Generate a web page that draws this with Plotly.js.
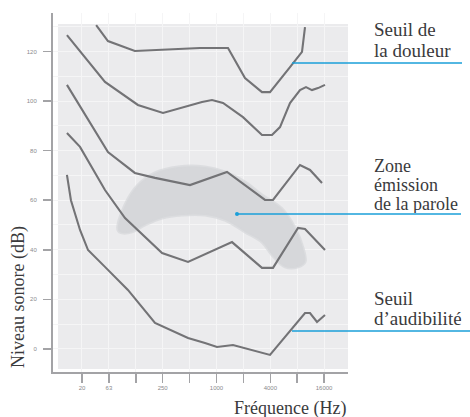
<!DOCTYPE html>
<html>
<head>
<meta charset="utf-8">
<script src="https://cdn.plot.ly/plotly-3.0.1.min.js"></script>
<style>html,body{margin:0;padding:0;background:#fff}#chart{width:470px;height:417px}</style>
</head>
<body>
<div id="chart"></div>
<script>
// Frequencies in Hz, levels in dB
const painFreq = [45, 61, 122, 654, 1345, 2083, 3229, 3969, 6644, 9053, 9781];
const painDb   = [130.6, 124.2, 120.2, 121.4, 121.4, 109.3, 103.6, 103.6, 113.7, 119.8, 129.8];

const c100Freq = [21.2, 56.5, 132, 252, 688, 891, 1183, 1979, 3229, 4178, 5137, 6644, 8597, 10035, 11713, 13672, 16372];
const c100Db   = [126.6, 107.7, 98.4, 95.2, 99.6, 100.4, 99.2, 93.5, 86.3, 86.3, 89.5, 99.2, 104.4, 105.6, 104.4, 105.2, 106.5];

const c80Freq = [21.2, 36.5, 61, 122, 205, 505, 1311, 3490, 4287, 8597, 11128, 15159];
const c80Db   = [106.5, 92.3, 79.4, 71.0, 69.0, 66.1, 71.4, 60.1, 60.1, 74.2, 72.2, 66.9];

const c60Freq = [21.2, 29.7, 56.5, 94.7, 246, 480, 1491, 3229, 4287, 8169, 9781, 16372];
const c60Db   = [87.1, 81.5, 64.1, 52.8, 38.7, 35.1, 43.1, 32.7, 32.7, 48.8, 48.4, 39.9];

const audFreq = [21.2, 23.5, 29.7, 36.5, 56.5, 102, 205, 480, 743, 1013, 1530, 3969, 9781, 11128, 13325, 16372];
const audDb   = [70.2, 60.0, 48.0, 39.9, 33.1, 23.8, 10.5, 4.4, 2.4, 0.8, 1.6, -2.4, 14.5, 14.5, 10.9, 13.7];

// Speech zone outline
const zoneFreq = [79, 94.7, 132, 205, 371, 743, 1245, 2083, 3229, 5407, 7559, 9294, 9781, 8169, 5840, 4178, 3229, 2083, 1245, 743, 411, 246, 158, 113, 87.6, 79];
const zoneDb   = [48.0, 58.1, 66.1, 71.0, 73.4, 73.4, 71.4, 67.3, 62.1, 56.5, 48.8, 40.7, 35.1, 33.1, 33.1, 37.9, 43.1, 47.2, 52.0, 54.0, 54.0, 52.8, 50.0, 47.2, 46.8, 48.0];

const tickFreq = [31.25, 62.5, 125, 250, 500, 1000, 2000, 4000, 8000, 16000];
const tickText = ['20', '63', '', '250', '', '1000', '', '4000', '', '16000'];
const yTicks = [0, 20, 40, 60, 80, 100, 120];

const curveLine = {color: '#737376', width: 2.1};
const traces = [
  {x: zoneFreq, y: zoneDb, mode: 'lines', fill: 'toself', fillcolor: '#d6d7da',
   line: {color: 'rgba(214,215,218,0.7)', width: 3, shape: 'spline', smoothing: 1}, hoverinfo: 'skip'},
  {x: painFreq, y: painDb, mode: 'lines', line: curveLine},
  {x: c100Freq, y: c100Db, mode: 'lines', line: curveLine},
  {x: c80Freq, y: c80Db, mode: 'lines', line: curveLine},
  {x: c60Freq, y: c60Db, mode: 'lines', line: curveLine},
  {x: audFreq, y: audDb, mode: 'lines', line: curveLine}
];

const serif = 'Liberation Serif, DejaVu Serif, serif';
const txtColor = '#3a3a3c';
const blue = '#1a9fd8';
function lbl(text, px, py, size, h) {
  return {text: text, xref: 'paper', yref: 'paper', x: (px - 53) / 295, y: (372 - py) / 359,
    xanchor: 'left', yanchor: 'middle', height: h, valign: 'middle', showarrow: false,
    font: {family: serif, size: size, color: txtColor}};
}
function pl(px1, py, px2) {
  return {type: 'line', xref: 'paper', yref: 'paper', x0: (px1 - 53) / 295, x1: (px2 - 53) / 295,
    y0: (372 - py) / 359, y1: (372 - py) / 359, line: {color: blue, width: 1.5}};
}

const layout = {
  width: 470, height: 417,
  margin: {l: 53, r: 122, t: 13, b: 45},
  paper_bgcolor: '#ffffff', plot_bgcolor: '#ffffff',
  showlegend: false,
  xaxis: {
    type: 'log', range: [1.1704, 4.4715],
    tickvals: tickFreq, ticktext: tickText,
    showline: true, linecolor: '#a3a3a6', linewidth: 2,
    ticks: 'outside', ticklen: 9, tickwidth: 1.5, tickcolor: '#a3a3a6',
    tickfont: {family: 'Liberation Sans, sans-serif', size: 6, color: '#8a8a8d'},
    showgrid: true, gridcolor: '#f5f5f6', gridwidth: 1, zeroline: false
  },
  yaxis: {
    range: [-9.3, 135.5],
    tickvals: yTicks,
    showline: true, linecolor: '#a3a3a6', linewidth: 2,
    ticks: 'outside', ticklen: 8, tickwidth: 1.5, tickcolor: '#a3a3a6',
    ticklabelstandoff: 5,
    tickfont: {family: 'Liberation Sans, sans-serif', size: 6, color: '#8a8a8d'},
    showgrid: true, gridcolor: '#f5f5f6', gridwidth: 1, zeroline: false,
    minor: {dtick: 10, tick0: 0, showgrid: true, gridcolor: '#f5f5f6', gridwidth: 1, ticks: ''}
  },
  shapes: [
    {type: 'rect', xref: 'x domain', yref: 'y domain', x0: 5 / 295, x1: 1, y0: 3 / 359, y1: (372 - 24) / 359,
     fillcolor: '#ebebed', line: {width: 0}, layer: 'below'},
    pl(292, 63, 462),
    pl(237, 214, 461),
    pl(292, 331, 470),
    {type: 'circle', xref: 'paper', yref: 'paper', x0: (235 - 53) / 295, x1: (239 - 53) / 295,
     y0: (372 - 216) / 359, y1: (372 - 212) / 359, fillcolor: blue, line: {width: 0}}
  ],
  annotations: [
    lbl('Seuil de', 372, 30, 19, 19),
    lbl('la douleur', 372, 50.5, 19, 19),
    lbl('Zone', 372, 166, 18, 18),
    lbl('émission', 372, 185, 18, 18),
    lbl('de la parole', 372, 204, 18, 18),
    lbl('Seuil', 372, 297.5, 19, 18),
    lbl('d’audibilité', 372, 318, 19, 18),
    {text: 'Niveau sonore (dB)', xref: 'paper', yref: 'paper', x: (18 - 53) / 295, y: (372 - 297) / 359,
     xanchor: 'center', yanchor: 'middle', textangle: -90, showarrow: false,
     font: {family: serif, size: 18, color: txtColor}},
    {text: 'Fréquence (Hz)', xref: 'paper', yref: 'paper', x: (290 - 53) / 295, y: (372 - 408) / 359,
     xanchor: 'center', yanchor: 'middle', showarrow: false,
     font: {family: serif, size: 18, color: txtColor}}
  ]
};

Plotly.newPlot('chart', traces, layout, {displayModeBar: false, staticPlot: true});
</script>
</body>
</html>
